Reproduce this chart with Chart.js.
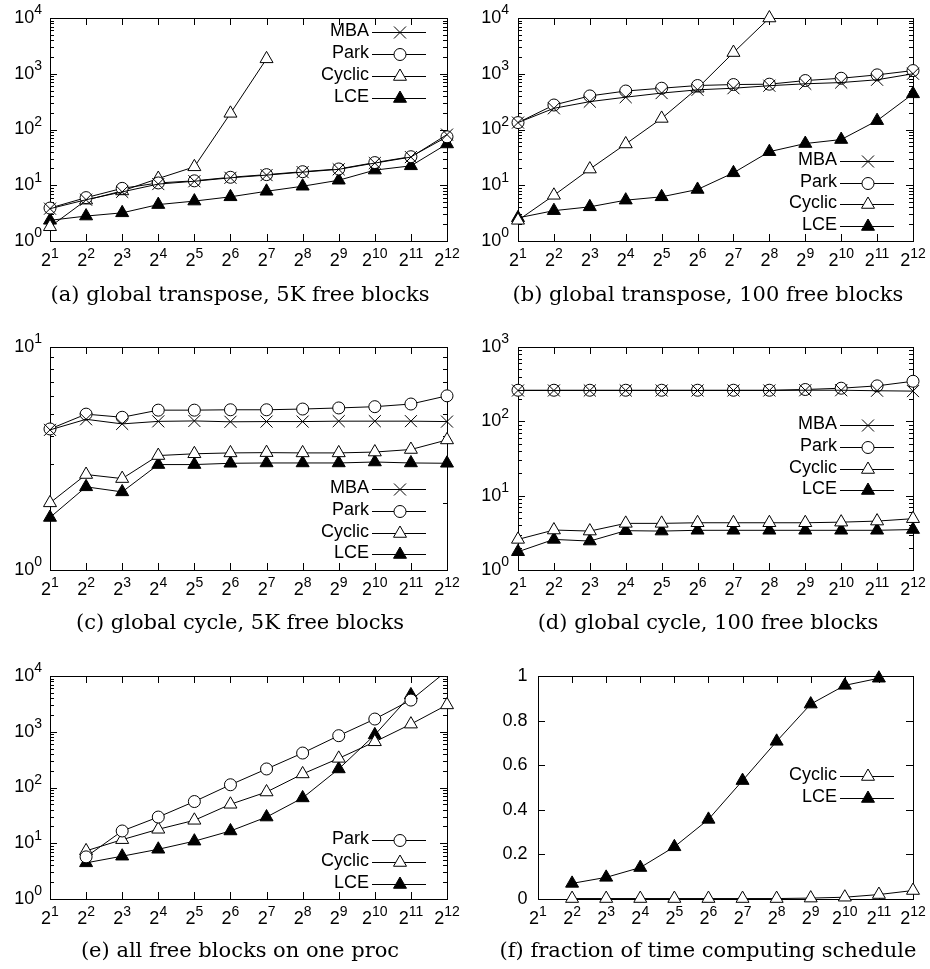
<!DOCTYPE html>
<html>
<head>
<meta charset="utf-8">
<title>schedule computation timings</title>
<script src="https://cdn.jsdelivr.net/npm/chart.js@4.4.1/dist/chart.umd.min.js"></script>
<style>
  body { margin: 0; background: #fff; width: 930px; height: 969px; position: relative; overflow: hidden; }
  canvas { position: absolute; }
  .cap { position: absolute; width: 600px; text-align: center; color: #000; white-space: nowrap;
         font-family: "DejaVu Serif", "Liberation Serif", serif; font-size: 21px; line-height: 28px; }
</style>
</head>
<body>
<canvas id="pa" width="465" height="300" style="left:0;top:0"></canvas>
<canvas id="pb" width="465" height="300" style="left:465px;top:0"></canvas>
<canvas id="pc" width="465" height="300" style="left:0;top:320px"></canvas>
<canvas id="pd" width="465" height="300" style="left:465px;top:320px"></canvas>
<canvas id="pe" width="465" height="329" style="left:0;top:640px"></canvas>
<canvas id="pf" width="465" height="329" style="left:465px;top:640px"></canvas>
<div class="cap" style="left:-60px;top:280px">(a) global transpose, 5K free blocks</div>
<div class="cap" style="left:408px;top:280px">(b) global transpose, 100 free blocks</div>
<div class="cap" style="left:-60px;top:608px">(c) global cycle, 5K free blocks</div>
<div class="cap" style="left:408px;top:608px">(d) global cycle, 100 free blocks</div>
<div class="cap" style="left:-60px;top:936px">(e) all free blocks on one proc</div>
<div class="cap" style="left:408px;top:936px">(f) fraction of time computing schedule</div>
<script>
// tick labels as [base, exponent]
const xTickLabels = [['2', '1'], ['2', '2'], ['2', '3'], ['2', '4'], ['2', '5'], ['2', '6'],
                     ['2', '7'], ['2', '8'], ['2', '9'], ['2', '10'], ['2', '11'], ['2', '12']];
const decadeTicks = [1, 10, 100, 1000, 10000];
const decadeLabels = [['10', '0'], ['10', '1'], ['10', '2'], ['10', '3'], ['10', '4']];
const fracTicks = [0, 0.2, 0.4, 0.6, 0.8, 1];
const fracLabels = [['0', ''], ['0.2', ''], ['0.4', ''], ['0.6', ''], ['0.8', ''], ['1', '']];

// (a) global transpose, 5K free blocks
const aMBA    = [3.8, 5.5, 7.6, 10.5, 11.8, 13.6, 15.2, 17.2, 19.3, 25, 32, 81];
const aPark   = [3.9, 6.0, 8.8, 11, 12, 13.9, 15.5, 17.5, 19.6, 25.5, 32.5, 74];
const aCyclic = [1.8, 5.4, 7.9, 13.2, 21.4, 195, 1850, null, null, null, null, null];
const aLCE    = [2.35, 2.8, 3.2, 4.5, 5.2, 6.2, 7.8, 9.6, 12.3, 18.7, 22.3, 55];

// (b) global transpose, 100 free blocks
const bMBA    = [133, 240, 316, 380, 450, 515, 550, 610, 660, 695, 780, 1000];
const bPark   = [133, 275, 400, 490, 550, 615, 640, 650, 755, 830, 955, 1140];
const bCyclic = [2.35, 6.6, 19.5, 55, 158, 550, 2400, 10000, null, null, null, null];
const bLCE    = [2.6, 3.5, 4.1, 5.4, 6.2, 8.4, 16.7, 40, 56, 66, 144, 436];

// (c) global cycle, 5K free blocks
const cMBA    = [4.25, 4.74, 4.52, 4.64, 4.66, 4.62, 4.63, 4.63, 4.65, 4.65, 4.65, 4.63];
const cPark   = [4.29, 5.0, 4.84, 5.21, 5.21, 5.23, 5.23, 5.27, 5.33, 5.40, 5.55, 6.04];
const cCyclic = [2.0, 2.68, 2.57, 3.26, 3.32, 3.35, 3.36, 3.35, 3.35, 3.38, 3.47, 3.83];
const cLCE    = [1.72, 2.36, 2.24, 2.97, 2.97, 3.01, 3.02, 3.02, 3.02, 3.05, 3.02, 3.01];

// (d) global cycle, 100 free blocks
const dMBA    = [260, 260, 260, 260, 260, 260, 260, 260, 262, 262, 258, 255];
const dPark   = [262, 262, 262, 262, 262, 262, 262, 262, 268, 279, 300, 346];
const dCyclic = [2.58, 3.45, 3.34, 4.24, 4.24, 4.32, 4.32, 4.32, 4.32, 4.4, 4.55, 4.9];
const dLCE    = [1.76, 2.58, 2.45, 3.38, 3.34, 3.42, 3.42, 3.42, 3.42, 3.42, 3.42, 3.5];

// (e) all free blocks on one proc
const ePark   = [null, 5.7, 16.6, 29.5, 56, 112, 215, 415, 850, 1690, 3700, 12400];
const eCyclic = [null, 7.3, 11.6, 17.8, 25.8, 50, 83, 175, 333, 660, 1370, 3030];
const eLCE    = [null, 4.45, 5.86, 7.8, 10.9, 16.6, 29.5, 65, 215, 880, 4580, null];

// (f) fraction of time computing schedule
const fCyclic = [null, 0.002, 0.002, 0.002, 0.002, 0.002, 0.002, 0.002, 0.004, 0.008, 0.02, 0.038];
const fLCE    = [null, 0.07, 0.097, 0.141, 0.234, 0.357, 0.531, 0.707, 0.874, 0.958, 0.99, null];

const SANS = '"Liberation Sans", "DejaVu Sans", Arial, sans-serif';
const BASE_FONT = '18px ' + SANS;
const SUP_FONT = '14px ' + SANS;

const markers = {
    MBA:    { pointStyle: 'crossRot', radius: 8.5, fill: '#fff' },
    Park:   { pointStyle: 'circle',   radius: 6,   fill: '#fff' },
    Cyclic: { pointStyle: 'triangle', radius: 7.5, fill: '#fff' },
    LCE:    { pointStyle: 'triangle', radius: 7.5, fill: '#000' }
};

function series(name, values, clip) {
    const m = markers[name];
    return {
        label: name,
        data: values,
        borderColor: '#000',
        borderWidth: 1,
        pointStyle: m.pointStyle,
        pointRadius: m.radius,
        pointHoverRadius: m.radius,
        pointBackgroundColor: m.fill,
        pointBorderColor: '#000',
        pointBorderWidth: 1,
        tension: 0,
        spanGaps: false,
        clip: clip === undefined ? 12 : clip
    };
}

const panels = [
    { id: 'pa', h: 300, area: { left: 50, top: 18, right: 447, bottom: 241 }, gap: 8,
      log: true, yTicks: decadeTicks, yLabels: decadeLabels,
      sets: [series('MBA', aMBA), series('Park', aPark), series('Cyclic', aCyclic), series('LCE', aLCE)],
      legend: { right: 369, top: 31, dy: 22 } },
    { id: 'pb', h: 300, area: { left: 53, top: 18, right: 448, bottom: 241 }, gap: 9,
      log: true, yTicks: decadeTicks, yLabels: decadeLabels,
      sets: [series('MBA', bMBA), series('Park', bPark), series('Cyclic', bCyclic), series('LCE', bLCE)],
      legend: { right: 372, top: 160, dy: 21.7 } },
    { id: 'pc', h: 300, area: { left: 50, top: 27, right: 447, bottom: 250 }, gap: 8,
      log: true, yTicks: decadeTicks.slice(0, 2), yLabels: decadeLabels.slice(0, 2),
      sets: [series('MBA', cMBA), series('Park', cPark), series('Cyclic', cCyclic), series('LCE', cLCE)],
      legend: { right: 369, top: 168.3, dy: 21.7 } },
    { id: 'pd', h: 300, area: { left: 53, top: 27, right: 448, bottom: 250 }, gap: 9,
      log: true, yTicks: decadeTicks.slice(0, 4), yLabels: decadeLabels.slice(0, 4),
      sets: [series('MBA', dMBA), series('Park', dPark), series('Cyclic', dCyclic), series('LCE', dLCE)],
      legend: { right: 372, top: 104.3, dy: 21.7 } },
    { id: 'pe', h: 329, area: { left: 50, top: 36, right: 447, bottom: 259 }, gap: 8,
      log: true, yTicks: decadeTicks, yLabels: decadeLabels,
      sets: [series('Park', ePark, 0), series('Cyclic', eCyclic), series('LCE', eLCE)],
      legend: { right: 369, top: 199.3, dy: 21.7 } },
    { id: 'pf', h: 329, area: { left: 73, top: 36, right: 448, bottom: 259 }, gap: 10.5,
      log: false, yTicks: fracTicks, yLabels: fracLabels,
      sets: [series('Cyclic', fCyclic), series('LCE', fLCE)],
      legend: { right: 372, top: 135, dy: 21.7 } }
];

// label with a gnuplot style superscript; align 'center' or 'right'
function drawSupLabel(ctx, label, x, y, align) {
    ctx.font = BASE_FONT;
    const wb = ctx.measureText(label[0]).width;
    ctx.font = SUP_FONT;
    const we = label[1] ? ctx.measureText(label[1]).width : 0;
    const x0 = align === 'center' ? x - (wb + we) / 2 : x - wb - we;
    ctx.textAlign = 'left';
    ctx.textBaseline = 'middle';
    ctx.font = BASE_FONT;
    ctx.fillText(label[0], x0, y);
    if (label[1]) {
        ctx.font = SUP_FONT;
        ctx.fillText(label[1], x0 + wb, y - 7.5);
    }
}

// gnuplot-like border with inward ticks on all four sides, tick labels and the key
function framePlugin(p) {
    return {
        id: 'frame',
        beforeDatasetsDraw(chart) {
            const ctx = chart.ctx;
            const a = chart.chartArea;
            const xs = chart.scales.x, ys = chart.scales.y;
            ctx.save();
            ctx.strokeStyle = '#000';
            ctx.lineWidth = 1;
            ctx.beginPath();
            for (let i = 0; i < xTickLabels.length; i++) {
                const px = Math.round(xs.getPixelForValue(i)) + 0.5;
                ctx.moveTo(px, a.bottom); ctx.lineTo(px, a.bottom - 7);
                ctx.moveTo(px, a.top); ctx.lineTo(px, a.top + 7);
            }
            const yTick = (v, len) => {
                const py = Math.round(ys.getPixelForValue(v)) + 0.5;
                ctx.moveTo(a.left, py); ctx.lineTo(a.left + len, py);
                ctx.moveTo(a.right, py); ctx.lineTo(a.right - len, py);
            };
            p.yTicks.forEach((v) => yTick(v, 7));
            if (p.log) {
                for (let i = 0; i < p.yTicks.length - 1; i++) {
                    for (let m = 2; m < 10; m++) yTick(m * p.yTicks[i], 4);
                }
            }
            ctx.stroke();
            ctx.strokeRect(a.left + 0.5, a.top + 0.5, a.right - a.left, a.bottom - a.top);

            ctx.fillStyle = '#000';
            xTickLabels.forEach((lab, i) => {
                drawSupLabel(ctx, lab, xs.getPixelForValue(i), a.bottom + 20.5, 'center');
            });
            p.yTicks.forEach((v, i) => {
                drawSupLabel(ctx, p.yLabels[i], a.left - p.gap, ys.getPixelForValue(v), 'right');
            });
            ctx.restore();
        },
        afterDatasetsDraw(chart) {
            const ctx = chart.ctx;
            const lg = p.legend;
            ctx.save();
            ctx.font = BASE_FONT;
            ctx.textAlign = 'right';
            ctx.textBaseline = 'middle';
            chart.data.datasets.forEach((ds, i) => {
                const y = lg.top + i * lg.dy;
                const ly = Math.round(y) + 1.5;
                ctx.fillStyle = '#000';
                ctx.fillText(ds.label, lg.right, y);
                ctx.strokeStyle = '#000';
                ctx.lineWidth = 1;
                ctx.beginPath();
                ctx.moveTo(lg.right + 3, ly);
                ctx.lineTo(lg.right + 57, ly);
                ctx.stroke();
                ctx.fillStyle = ds.pointBackgroundColor;
                Chart.helpers.drawPoint(ctx, {
                    pointStyle: ds.pointStyle, radius: ds.pointRadius, rotation: 0, borderWidth: 1
                }, lg.right + 31, ly);
            });
            ctx.restore();
        }
    };
}

panels.forEach((p) => {
    const canvas = document.getElementById(p.id);
    const w = canvas.width;
    new Chart(canvas, {
        type: 'line',
        data: { labels: xTickLabels.map((t) => t[0] + '^' + t[1]), datasets: p.sets },
        options: {
            responsive: false,
            animation: false,
            devicePixelRatio: 1,
            layout: { padding: { left: 0, top: p.area.top, right: w - p.area.right, bottom: 0 } },
            plugins: { legend: { display: false }, tooltip: { enabled: false } },
            events: [],
            scales: {
                x: {
                    type: 'category',
                    offset: false,
                    grid: { display: false },
                    border: { display: false },
                    ticks: { display: false },
                    afterFit: (s) => { s.height = p.h - p.area.bottom; }
                },
                y: {
                    type: p.log ? 'logarithmic' : 'linear',
                    min: p.yTicks[0],
                    max: p.yTicks[p.yTicks.length - 1],
                    grid: { display: false },
                    border: { display: false },
                    ticks: { display: false },
                    afterBuildTicks: (s) => { s.ticks = p.yTicks.map((v) => ({ value: v })); },
                    afterFit: (s) => { s.width = p.area.left; }
                }
            }
        },
        plugins: [framePlugin(p)]
    });
});
</script>
</body>
</html>
